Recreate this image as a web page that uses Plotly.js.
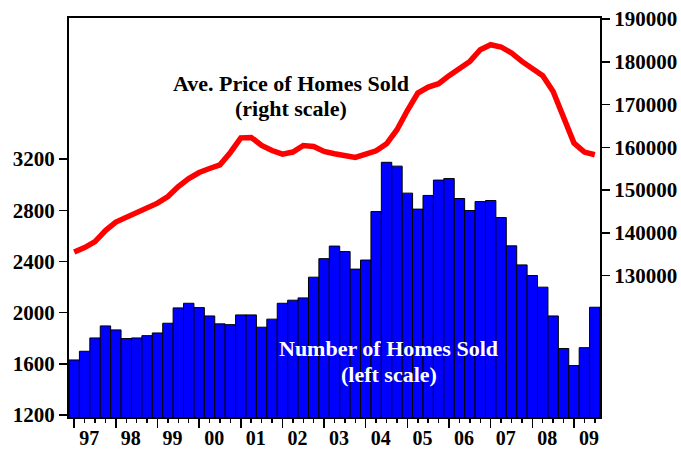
<!DOCTYPE html>
<html>
<head>
<meta charset="utf-8">
<script src="https://cdn.plot.ly/plotly-3.0.1.min.js"></script>
<style>html,body{margin:0;padding:0;background:#fff;}#chart{width:681px;height:450px;}</style>
</head>
<body>
<div id="chart"></div>
<script>
// Quarterly periods, 1997Q1 .. 2009Q3
const quarters = [
  "1997Q1","1997Q2","1997Q3","1997Q4","1998Q1","1998Q2","1998Q3","1998Q4",
  "1999Q1","1999Q2","1999Q3","1999Q4","2000Q1","2000Q2","2000Q3","2000Q4",
  "2001Q1","2001Q2","2001Q3","2001Q4","2002Q1","2002Q2","2002Q3","2002Q4",
  "2003Q1","2003Q2","2003Q3","2003Q4","2004Q1","2004Q2","2004Q3","2004Q4",
  "2005Q1","2005Q2","2005Q3","2005Q4","2006Q1","2006Q2","2006Q3","2006Q4",
  "2007Q1","2007Q2","2007Q3","2007Q4","2008Q1","2008Q2","2008Q3","2008Q4",
  "2009Q1","2009Q2","2009Q3"
];
// Number of homes sold (left scale)
const homesSold = [
  1630,1698,1802,1896, 1865,1797,1802,1820, 1841,1917,2037,2073,
  2039,1974,1912,1906, 1982,1982,1886,1949, 2073,2097,2115,2277,
  2422,2520,2477,2340, 2411,2790,3175,3145, 2934,2809,2916,3036,
  3048,2892,2798,2868, 2876,2743,2522,2373, 2290,2199,1974,1719,
  1586,1726,2042
];
// Average price of homes sold (right scale)
const avgPrice = [
  135500,136550,137960,140530, 142500,143570,144740,145910,
  146940,148490,150830,152700, 154100,155040,155900,158790,
  162200,162300,160420,159250, 158410,158880,160420,160190,
  159020,158480,158010,157620, 158410,159180,160820,164100,
  168600,172690,174090,174860, 176740,178300,180080,182820,
  183990,183450,182050,180080, 178540,176740,173060,167210,
  160990,158880,158250
];
const yearTicks = [1997,1998,1999,2000,2001,2002,2003,2004,2005,2006,2007,2008,2009];
const yearLabels = ["97","98","99","00","01","02","03","04","05","06","07","08","09"];
const leftTicks = [1200,1600,2000,2400,2800,3200];
const leftLabels = ["1200","1600","2000","2400","2800","3200"];
const rightTicks = [130000,140000,150000,160000,170000,180000,190000];
const rightLabels = ["130000","140000","150000","160000","170000","180000","190000"];

const xs = quarters.map(q => parseInt(q.slice(0,4)) + (parseInt(q.slice(5)) - 1) / 4);

const tickFont = {family: "Liberation Serif", size: 21, color: "#000", weight: "bold"};
const xTickFont = {family: "Liberation Serif", size: 20, color: "#000", weight: "bold"};
const noteFont = {family: "Liberation Serif", size: 22, color: "#000", weight: "bold"};
const noteFontW = {family: "Liberation Serif", size: 22, color: "#fff", weight: "bold"};

const traces = [
  {
    type: "bar", x: xs, y: homesSold, yaxis: "y",
    marker: {color: "#0000FF", line: {color: "#000", width: 1}},
    hoverinfo: "skip"
  },
  {
    type: "scatter", mode: "lines", x: xs, y: avgPrice, yaxis: "y2",
    line: {color: "#FF0000", width: 5.5},
    hoverinfo: "skip"
  }
];

function note(text, x, y, font) {
  return {xref: "paper", yref: "paper", x: x, y: y, xanchor: "center", yanchor: "middle",
          text: text, showarrow: false, font: font};
}

const layout = {
  width: 681, height: 450,
  margin: {l: 69, r: 81, t: 18, b: 33},
  paper_bgcolor: "#fff", plot_bgcolor: "#fff",
  showlegend: false,
  bargap: 0,
  xaxis: {
    type: "linear",
    range: [1996.875, 2009.625],
    tickmode: "array", tickvals: yearTicks, ticktext: yearLabels,
    ticks: "outside", ticklen: 9, tickwidth: 1.5, tickcolor: "#000",
    ticklabelshift: 15, ticklabelstandoff: -7,
    minor: {ticks: "outside", dtick: 0.25, tick0: 1997, ticklen: 4, tickwidth: 1.5, tickcolor: "#000", showgrid: false},
    showgrid: false, zeroline: false,
    showline: true, linecolor: "#000", linewidth: 2, mirror: true,
    tickfont: xTickFont
  },
  yaxis: {
    range: [1184, 4303],
    tickmode: "array", tickvals: leftTicks, ticktext: leftLabels,
    ticks: "outside", ticklen: 8, tickwidth: 1.5, tickcolor: "#000",
    showgrid: false, zeroline: false,
    showline: true, linecolor: "#000", linewidth: 2,
    tickfont: tickFont
  },
  yaxis2: {
    overlaying: "y", side: "right",
    range: [96930, 190230],
    tickmode: "array", tickvals: rightTicks, ticktext: rightLabels,
    ticks: "outside", ticklen: 8, tickwidth: 1.5, tickcolor: "#000",
    showgrid: false, zeroline: false,
    showline: true, linecolor: "#000", linewidth: 2,
    tickfont: tickFont
  },
  annotations: [
    note("Ave. Price of Homes Sold", 0.419, 0.8346, noteFont),
    note("(right scale)", 0.419, 0.7734, noteFont),
    note("Number of Homes Sold", 0.6017, 0.1719, noteFontW),
    note("(left scale)", 0.6017, 0.1053, noteFontW)
  ]
};

Plotly.newPlot("chart", traces, layout, {staticPlot: true, displayModeBar: false});
</script>
</body>
</html>
